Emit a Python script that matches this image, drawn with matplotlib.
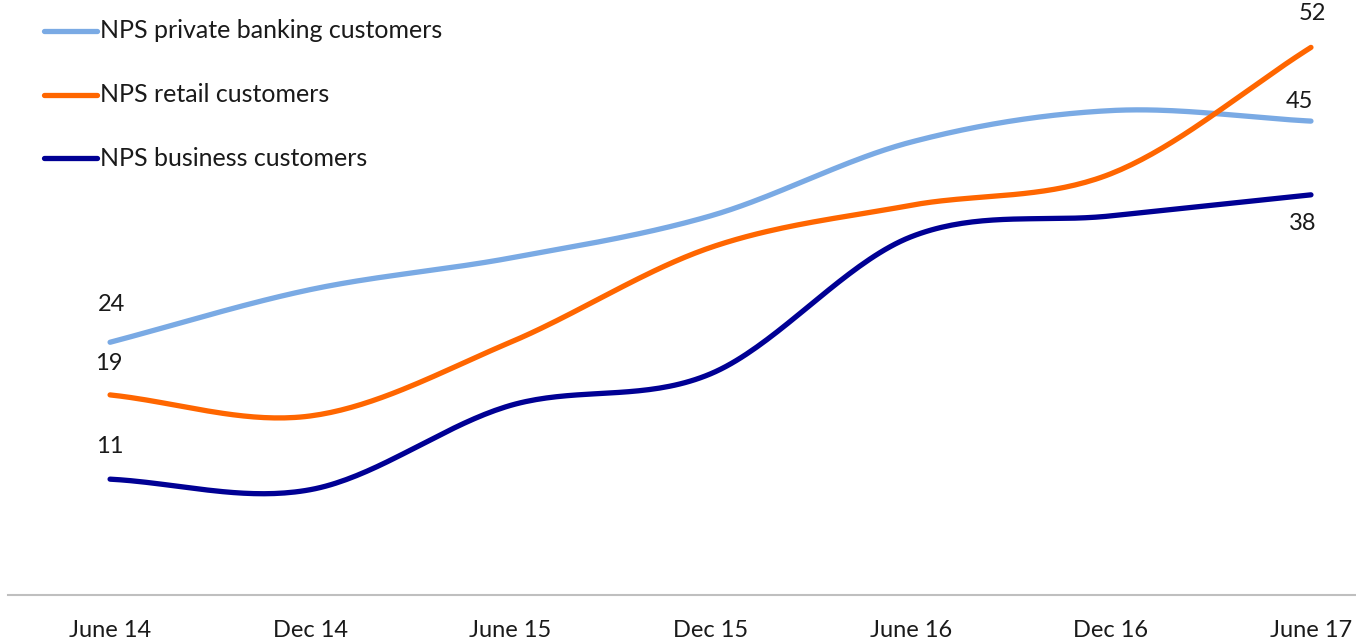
import numpy as np
import matplotlib.pyplot as plt
from matplotlib.lines import Line2D

# half-year periods and NPS scores per customer group
periods = ['June 14', 'Dec 14', 'June 15', 'Dec 15', 'June 16', 'Dec 16', 'June 17']
nps_private = [24, 29, 32, 36, 43, 46, 45]
nps_retail = [19, 17, 24, 33, 37, 40, 52]
nps_business = [11, 10, 18, 21, 34, 36, 38]

series_names = ['NPS private banking customers', 'NPS retail customers', 'NPS business customers']
colors = ['#7AAAE4', '#FF6600', '#000094']

plt.rcParams['font.family'] = ['Lato', 'DejaVu Sans']


def smooth(xs, ys, steps=40):
    # catmull-rom curve through the points, like a spreadsheet "smoothed line"
    xs = np.asarray(xs, float)
    ys = np.asarray(ys, float)
    px = np.concatenate([[2 * xs[0] - xs[1]], xs, [2 * xs[-1] - xs[-2]]])
    py = np.concatenate([[2 * ys[0] - ys[1]], ys, [2 * ys[-1] - ys[-2]]])
    out_x, out_y = [], []
    t = np.linspace(0, 1, steps)
    for i in range(1, len(px) - 2):
        for p, out in ((px, out_x), (py, out_y)):
            p0, p1, p2, p3 = p[i - 1], p[i], p[i + 1], p[i + 2]
            c1 = p1 + (p2 - p0) / 6
            c2 = p2 - (p3 - p1) / 6
            seg = ((1 - t) ** 3 * p1 + 3 * (1 - t) ** 2 * t * c1
                   + 3 * (1 - t) * t ** 2 * c2 + t ** 3 * p2)
            out.extend(seg if i == 1 else seg[1:])
    return np.array(out_x), np.array(out_y)


fig = plt.figure(figsize=(13.56, 6.44), dpi=100)
ax = fig.add_axes([8 / 1356, 1 - 595 / 644, 1 - 8 / 1356, 595 / 644])

x = np.arange(len(periods))
all_series = [nps_private, nps_retail, nps_business]
for vals, col in zip(all_series, colors):
    sx, sy = smooth(x, vals)
    ax.plot(sx, sy, color=col, lw=3.8, solid_capstyle='round', clip_on=False)

# value labels at both ends
lab = dict(fontsize=17, color='#1a1a1a', ha='center', va='center',
           textcoords='offset pixels', annotation_clip=False)
ax.annotate(str(nps_private[0]), (0, nps_private[0]), xytext=(1, 38), **lab)
ax.annotate(str(nps_retail[0]), (0, nps_retail[0]), xytext=(-1, 31), **lab)
ax.annotate(str(nps_business[0]), (0, nps_business[0]), xytext=(0, 33), **lab)
ax.annotate(str(nps_retail[-1]), (6, nps_retail[-1]), xytext=(1, 34), **lab)
ax.annotate(str(nps_private[-1]), (6, nps_private[-1]), xytext=(-12, 20), **lab)
ax.annotate(str(nps_business[-1]), (6, nps_business[-1]), xytext=(-8, -29), **lab)

ax.set_xlim(-0.51, 6.225)
ax.set_ylim(0, 56.5)
ax.set_xticks(x)
ax.set_xticklabels(periods, fontsize=17, color='#1a1a1a')
ax.tick_params(axis='x', length=0, pad=18)
ax.set_yticks([])
for side in ['top', 'left', 'right']:
    ax.spines[side].set_visible(False)
ax.spines['bottom'].set_color('#BFBFBF')
ax.spines['bottom'].set_linewidth(1.5)

# legend drawn by hand at the top left
for i, (name, col) in enumerate(zip(series_names, colors)):
    yy = 1 - (31 + i * 63.5) / 644
    fig.add_artist(Line2D([44 / 1356, 97 / 1356], [yy, yy], color=col, lw=3.8,
                          solid_capstyle='round'))
    fig.text(100 / 1356, yy, name, fontsize=18, color='#1a1a1a', va='center', ha='left')

fig.savefig('out.png', dpi=100)
